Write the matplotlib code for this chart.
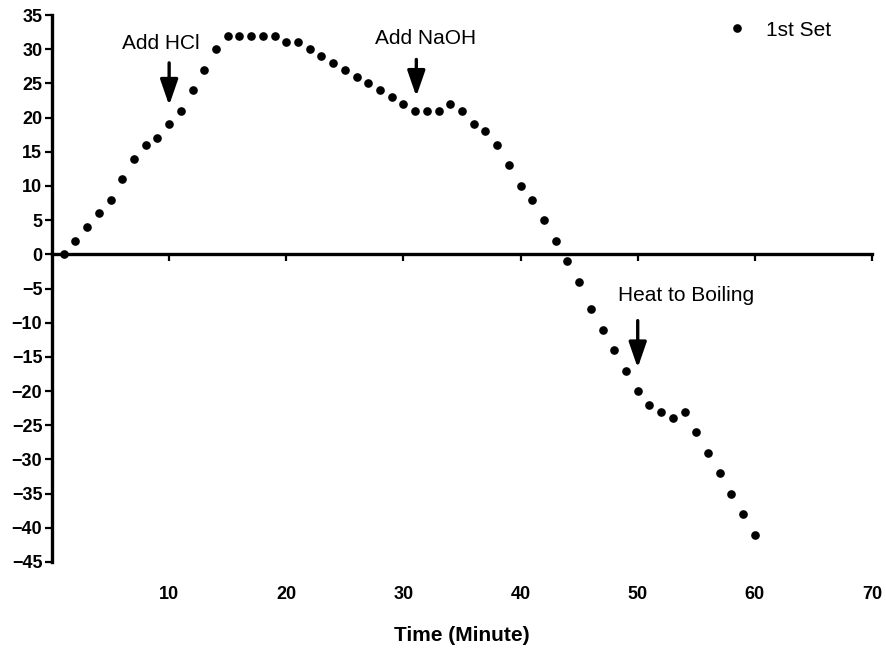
import matplotlib
matplotlib.use("Agg")
import matplotlib.pyplot as plt

plt.rcParams['font.family'] = ['Liberation Sans', 'DejaVu Sans']

# data, one reading per minute
time_min = list(range(1, 61))
first_set = [0, 2, 4, 6, 8, 11, 14, 16, 17, 19,
             21, 24, 27, 30, 32, 32, 32, 32, 32, 31,
             31, 30, 29, 28, 27, 26, 25, 24, 23, 22,
             21, 21, 21, 22, 21, 19, 18, 16, 13, 10,
             8, 5, 2, -1, -4, -8, -11, -14, -17, -20,
             -22, -23, -24, -23, -26, -29, -32, -35, -38, -41]

x_ticks = [10, 20, 30, 40, 50, 60, 70]
y_ticks = list(range(-45, 40, 5))

# (label, text x, text y, arrow x, arrow tail y, arrow tip y)
notes = [
    ("Add HCl", 9.3, 30.9, 10, 28.0, 21.8),
    ("Add NaOH", 31.9, 31.6, 31.1, 28.5, 23.1),
    ("Heat to Boiling", 54.1, -6.0, 50, -9.7, -16.6),
]

fig = plt.figure(figsize=(8.86, 6.52), dpi=100)
ax = fig.add_axes([52/886, 1 - 562/652, 820/886, 547/652])

ax.plot(time_min, first_set, ls='none', marker='o', ms=5.2,
        color='black', label='1st Set', clip_on=False)

ax.set_xlim(0, 70)
ax.set_ylim(-45, 35)

for side in ('top', 'right'):
    ax.spines[side].set_visible(False)
ax.spines['left'].set_linewidth(2.4)
ax.spines['bottom'].set_linewidth(2.4)
ax.spines['bottom'].set_position(('data', 0))

ax.set_yticks(y_ticks)
ax.set_xticks(x_ticks)
ax.tick_params(axis='y', direction='out', length=5, width=1.6, pad=2,
               labelsize=13)
ax.tick_params(axis='x', direction='out', length=5, width=1.6,
               labelbottom=False)
for lbl in ax.get_yticklabels():
    lbl.set_fontweight('bold')

# tick labels sit below the plot, not on the zero line
sec = ax.secondary_xaxis('bottom')
sec.set_xticks(x_ticks)
sec.spines['bottom'].set_visible(False)
sec.tick_params(axis='x', length=0, pad=17, labelsize=13)
for lbl in sec.get_xticklabels():
    lbl.set_fontweight('bold')
sec.set_xlabel('Time (Minute)', fontsize=15, fontweight='bold', labelpad=17)

for label, tx, ty, axx, tail, tip in notes:
    ax.text(tx, ty, label, fontsize=15, ha='center', va='center')
    ax.annotate('', xy=(axx, tip), xytext=(axx, tail),
                arrowprops=dict(arrowstyle='-|>,head_length=1.3,head_width=0.45',
                                lw=2.4, color='black', mutation_scale=12,
                                shrinkA=0, shrinkB=0))

ax.legend(loc='center left', bbox_to_anchor=(726.6/886, 1 - 30/652),
          bbox_transform=fig.transFigure, frameon=False, fontsize=15,
          handlelength=1, handletextpad=0.9, borderpad=0, borderaxespad=0,
          numpoints=1)

fig.savefig('out.png', dpi=100)
